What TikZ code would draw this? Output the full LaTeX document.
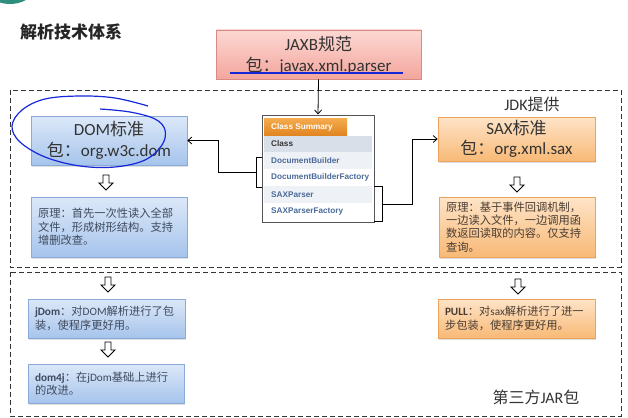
\documentclass[tikz,border=0pt]{standalone}
\usepackage{fontspec}
\setmainfont{Noto Sans CJK SC}
\newfontfamily\lat{Carlito}
\newfontfamily\jsans{Liberation Sans}
\usetikzlibrary{arrows.meta,shadows,calc}
\definecolor{hd}{HTML}{333333}
\definecolor{bluetop}{HTML}{DCE8F8}
\definecolor{bluebot}{HTML}{A6C4EC}
\definecolor{blueline}{HTML}{8AAAD8}
\definecolor{orgtop}{HTML}{FEE4C8}
\definecolor{orgbot}{HTML}{F8B976}
\definecolor{orgline}{HTML}{EDA35C}
\definecolor{pinktop}{HTML}{FCD8D3}
\definecolor{pinkbot}{HTML}{F3A69D}
\definecolor{pinkline}{HTML}{D98A82}
\definecolor{desctxt}{HTML}{3E4A5E}
\definecolor{desctxto}{HTML}{4A3C32}
\definecolor{jdtxt}{HTML}{4B6A99}
\definecolor{frame}{HTML}{555555}
\definecolor{teallogo}{HTML}{2F8F7F}
\definecolor{scribble}{HTML}{1428D8}
\definecolor{tabtop}{HTML}{F4AC4E}
\definecolor{tabbot}{HTML}{E0831F}
\definecolor{rowhead}{HTML}{D9DFE8}
\definecolor{rowlight}{HTML}{EEF1F5}
\tikzset{
  x=1pt, y=-1pt,
  shadowed/.style={drop shadow={opacity=0.25, shadow xshift=1pt, shadow yshift=-1.5pt}},
  bluebox/.style={shadowed, draw=blueline, top color=bluetop, bottom color=bluebot, inner sep=0pt, line width=0.6pt},
  orgbox/.style={shadowed, draw=orgline, top color=orgtop, bottom color=orgbot, inner sep=0pt, line width=0.6pt},
  pinkbox/.style={shadowed, draw=pinkline, top color=pinktop, bottom color=pinkbot, inner sep=0pt, line width=0.6pt},
  headtxt/.style={text=hd, align=center, font=\fontsize{17}{20.5}\selectfont},
  desctext/.style={align=left, font=\fontsize{11.25}{13.4}\selectfont},
  hollowarrow/.style={draw=black, fill=white, line width=0.9pt, line join=miter},
  dashbox/.style={draw=black!80, line width=0.9pt, dash pattern=on 5pt off 3pt},
  conn/.style={draw=black, line width=0.8pt},
  tip/.style={-{Straight Barb[length=4pt,width=7pt]}},
  cstext/.style={anchor=west, inner sep=0pt, font=\jsans\bfseries\fontsize{8.2}{9}\selectfont},
}
\newcommand\downhollow[1]{%
  \draw[hollowarrow] (#1) ++(-3,0) -- ++(6,0) -- ++(0,8) -- ++(4,0) -- ++(-7,7) -- ++(-7,-7) -- ++(4,0) -- cycle;}
\begin{document}
\begin{tikzpicture}
\useasboundingbox (0,0) rectangle (628,417);
\begin{scope}
\clip (0,0) rectangle (628,417);
\fill[teallogo] (10,-30) circle (34);
\end{scope}

% dashed regions
\draw[dashbox] (10,90) rectangle (621,267);
\draw[dashbox] (10,272) rectangle (621,416);

% title
\node[font=\bfseries\fontsize{17}{20}\selectfont, text=black!85] (title) at (71,32) {解析技术体系};

% JAXB
\node[pinkbox, minimum width=205pt, minimum height=49pt] (jaxb) at (318.5,54.5) {};
\node[headtxt] (jaxbt) at (318.5,55.5) {{\lat JAXB}规范\\包：{\lat javax.xml.parser}};
\draw[scribble, line width=1.1pt] (230,73) -- (403,73);

% labels
\node[text=hd, font=\fontsize{16}{18}\selectfont] (jdk) at (532,104) {{\lat JDK}提供};
\node[text=hd, font=\fontsize{16}{18}\selectfont] (third) at (536,397) {第三方{\lat JAR}包};

% DOM
\node[bluebox, minimum width=156pt, minimum height=49pt, headtxt] (dom) at (109,140.5) {{\lat DOM}标准\\包：{\lat org.w3c.dom}};
\node[bluebox, minimum width=156pt, minimum height=60pt, text width=142pt, desctext, text=desctxt] (domdesc) at (109,227)
  {原理：首先一次性读入全部\\文件，形成树形结构。支持\\增删改查。};
\coordinate (a1) at (106,175);
\downhollow{a1}

% SAX
\node[orgbox, minimum width=157pt, minimum height=44pt, headtxt] (sax) at (516.5,139) {{\lat SAX}标准\\包：{\lat org.xml.sax}};
\node[orgbox, minimum width=156pt, minimum height=60pt, text width=142pt, desctext, text=desctxto] (saxdesc) at (517,227)
  {原理：基于事件回调机制，\\一边读入文件，一边调用函\\数返回读取的内容。仅支持\\查询。};
\coordinate (a2) at (517,177);
\downhollow{a2}

% lower section
\coordinate (a3) at (108,277);
\downhollow{a3}
\node[bluebox, minimum width=157pt, minimum height=39pt, text width=143pt, desctext, text=desctxt] (jdom) at (106.5,318.5)
  {{\lat\bfseries jDom}：对{\lat DOM}解析进行了包\\装，使程序更好用。};
\coordinate (a4) at (108,342);
\downhollow{a4}
\node[bluebox, minimum width=156pt, minimum height=39pt, text width=142pt, desctext, text=desctxt] (dom4j) at (106,383.5)
  {{\lat\bfseries dom4j}：在{\lat jDom}基础上进行\\的改进。};
\coordinate (a5) at (518,279);
\downhollow{a5}
\node[orgbox, minimum width=157pt, minimum height=39pt, text width=143pt, desctext, text=desctxto] (pull) at (516.5,318.5)
  {{\lat\bfseries PULL}：对{\lat sax}解析进行了进一\\步包装，使程序更好用。};

% Class summary
\node[draw=frame, fill=white, line width=1pt, minimum width=112pt, minimum height=107pt, inner sep=0pt] (cs) at (318,168.5) {};
\fill[top color=tabtop, bottom color=tabbot] (264,118) rectangle (347,136);
\fill[rowhead] (264,136) rectangle (372,152);
\fill[rowlight] (264,152) rectangle (372,169);
\fill[rowlight] (264,186) rectangle (372,203);
\node[cstext, text=white] (csh) at (271,127) {Class Summary};
\node[cstext, text=hd] (csc) at (271,144) {Class};
\node[cstext, text=jdtxt] (r1) at (271,161) {DocumentBuilder};
\node[cstext, text=jdtxt] (r2) at (271,177.5) {DocumentBuilderFactory};
\node[cstext, text=jdtxt] (r3) at (271,194.5) {SAXParser};
\node[cstext, text=jdtxt] (r4) at (271,211.5) {SAXParserFactory};

% brackets
\coordinate (lb) at (256,172);
\coordinate (rb) at (382,204);
\draw[conn] (262,157) -- (256,157) -- (256,187) -- (262,187);
\draw[conn] (374,186) -- (382,186) -- (382,221) -- (374,221);

% connectors
\draw[conn, tip] (jaxb.south) -- (cs.north);
\draw[conn, tip] (lb) -- ++(-38,0) |- (dom.east);
\draw[conn, tip] (rb) -- ++(30,0) |- (sax.west);

% scribble annotation
\draw[scribble, line width=1.2pt, smooth, tension=0.6] plot coordinates {(148,106) (115,98) (80,96) (45,99) (22,110) (12,126) (20,142) (45,157) (80,166) (115,167) (145,160) (162,145) (165,130) (155,119) (130,112) (100,109)};
\end{tikzpicture}
\end{document}
